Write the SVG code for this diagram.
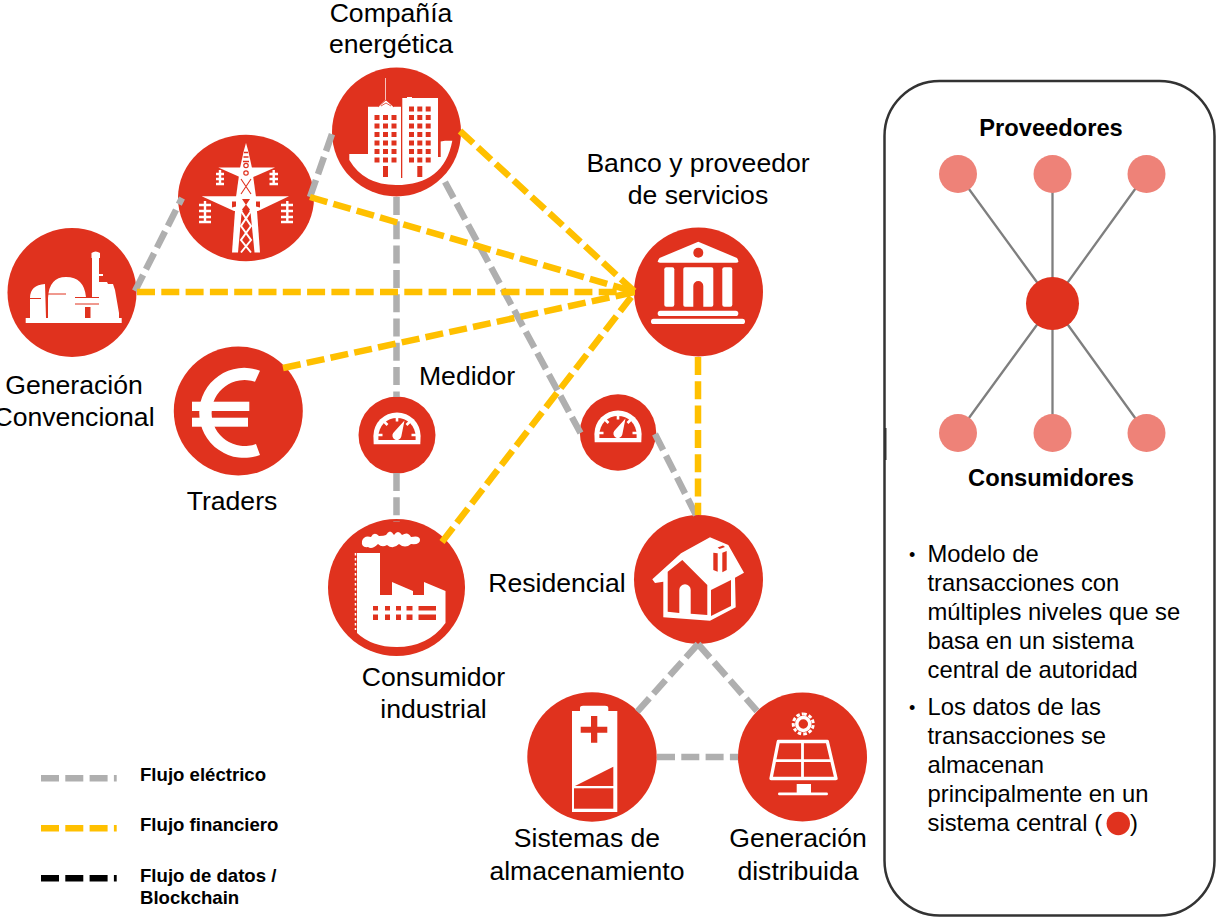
<svg xmlns="http://www.w3.org/2000/svg" xmlns:xlink="http://www.w3.org/1999/xlink" width="1217" height="917" viewBox="0 0 1217 917">
<style>
text{font-family:"Liberation Sans",Arial,sans-serif;fill:#000}
.lb{font-size:26.6px;text-anchor:middle}
.pt{font-size:23.8px}
.bu{font-size:18px}
.pb{font-size:23.7px;font-weight:bold;text-anchor:middle}
.lg{font-size:18.6px;font-weight:bold}
.c{fill:#E0321E}
.w{fill:#fff}
.rl{stroke:#E0321E;fill:none}
.wl{stroke:#fff;fill:none}
.dash{fill:none;stroke-width:6.5;stroke-dasharray:18 6.3}
.e{stroke:#AFAFAF}
.f{stroke:#FFC000}
.d{stroke:#000}
.pc{fill:#EE8278}
.sp{stroke:#7F7F7F;stroke-width:2.3;fill:none}
</style>
<defs>
<g id="meter">
<path class="w" d="M-23.3,9.3 L-23.6,1 A23.6,23.6 0 0 1 23.6,1 L23.3,9.3 Z"/>
<path class="c" d="M-18.6,5 L-18.6,1.5 A18.6,18.6 0 0 1 18.6,1.5 L18.6,5 Z"/>
<g class="wl" stroke-width="2.6">
<path d="M0,-18.5V-13.500M-13,-13.500L-9.500,-10M13,-13.500L9.500,-10M-19,0H-14.500M19,0H14.500"/>
</g>
<path class="w" d="M7.500,-14.500 L4.300,1.500 A4.500,4.500 0 1 1 -3.800,-2 Z"/>
</g>
</defs>

<g id="node-generacion">
<circle class="c" cx="72" cy="292.5" r="64.5"/>
<path class="w" d="M25.7,318 H30 V298 Q30,285 45,284 L46,318 H48 V298 Q49,277 66,277 Q84,277 86,297 H92 V258 H91.5 V253 Q95.5,250 100,253 V258 H99 V274 H103 V282 H107 L108,284 H113 L115,290 L119,313 V318 H121.7 V323 H25.7 Z"/>
<path class="rl" stroke-width="1" d="M30,298.5H41M47,294H66M75,297.5H99M75,304H99"/>
<rect class="c" x="85" y="307" width="5.5" height="11"/>
<rect class="c" x="99" y="276" width="4" height="6"/>
</g>

<g id="node-torre">
<ellipse class="c" cx="246" cy="198" rx="68" ry="63.3"/>
<path class="w" d="M244,150 L246,143 L248,150 L252,168 H240 Z"/>
<path class="w" d="M240,168 H252 L256,197 H236 Z"/>
<path class="w" d="M236,197 L232,252.5 H238 L243,197 Z"/>
<path class="w" d="M256,197 L260,252.5 H254.5 L249,197 Z"/>
<path class="w" d="M218.3,167.500 H275 L251,178 H242 Z"/>
<path class="w" d="M201.7,196.200 H289 L258,211 H234 Z"/>
<path class="rl" stroke-width="1.5" d="M244,152.500H248M243.500,157H248.500M243,161.500H249"/>
<circle class="rl" cx="246" cy="165.500" r="2.200" stroke-width="1.200"/>
<circle class="rl" cx="246" cy="173" r="2.200" stroke-width="1.200"/>
<path class="rl" stroke-width="1.100" d="M241,179L251,194M251,179L241,194"/>
<path class="c" d="M232,201.500H236V206.500L232,207.500ZM256,201.500H260V207.500L256,206.500ZM242,199H250L246,205ZM242,209.500L246,204.500L250,209.500L246,216Z"/>
<path class="wl" stroke-width="2" d="M241,211L251,226L241,240L251,252.500M251,211L241,226L251,240L241,252.500"/>
<path class="wl" stroke-width="2.400" d="M220,170V185M273.700,170V185M205,201V223M287.300,201V223"/>
<path class="wl" stroke-width="2.400" d="M216,174H224M216,179H224M216,184H224M269.500,174H278M269.500,179H278M269.500,184H278M199,205H211M199,211H211M199,217H211M199,222H211M281,205H293M281,211H293M281,217H293M281,222H293"/>
</g>

<g id="node-compania">
<circle class="c" cx="396.5" cy="132" r="64.5"/>
<path class="w" d="M349.3,154 H368 V106.7 H378 L385.3,100 V78 H386 V100 L393.5,106.7 H401 V178 H402.3 V98 H407 V97 H412 V98 H438 V157 H440.7 V141.5 L445,140.7 L452.3,140.7 Q444,185 396,185 Q364,185 349.3,160 Z"/>
<path class="rl" stroke-width="0.8" d="M378,107L386,100L394,107M381,106L386,103L391,106"/>
<path class="c" d="M374.5,115h5v5h-5zM383,115h5v5h-5zM391.5,115h5v5h-5zM374.5,123.5h5v5h-5zM383,123.5h5v5h-5zM391.5,123.5h5v5h-5zM374.5,132h5v5h-5zM383,132h5v5h-5zM391.5,132h5v5h-5zM374.5,140.5h5v5h-5zM383,140.5h5v5h-5zM391.5,140.5h5v5h-5zM374.5,149h5v5h-5zM383,149h5v5h-5zM391.5,149h5v5h-5zM374.5,157.5h5v5h-5zM383,157.5h5v5h-5zM391.5,157.5h5v5h-5z"/>
<path class="c" d="M409,106.5h5v5h-5zM417.3,106.5h5v5h-5zM425.7,106.5h5v5h-5zM409,115h5v5h-5zM417.3,115h5v5h-5zM425.7,115h5v5h-5zM409,123.5h5v5h-5zM417.3,123.5h5v5h-5zM425.7,123.5h5v5h-5zM409,132h5v5h-5zM417.3,132h5v5h-5zM425.7,132h5v5h-5zM409,140.5h5v5h-5zM417.3,140.5h5v5h-5zM425.7,140.5h5v5h-5zM409,149h5v5h-5zM417.3,149h5v5h-5zM425.7,149h5v5h-5zM409,157.5h5v5h-5zM417.3,157.5h5v5h-5zM425.7,157.5h5v5h-5z"/>
<rect class="c" x="383" y="166" width="5" height="11"/>
<rect class="c" x="417.3" y="166" width="5" height="11"/>
</g>

<g id="node-traders">
<circle class="c" cx="238.3" cy="411" r="64.5"/>
<path class="w" d="M260,370.7 A45,45 0 1 0 260,455 L256,444 A33,33 0 1 1 255,381.7 Z"/>
<rect class="w" x="192" y="401.7" width="57.3" height="9.3"/>
<rect class="w" x="192" y="417.7" width="56" height="9"/>
</g>

<g id="node-banco">
<circle class="c" cx="698.5" cy="292" r="64.5"/>
<path class="w" d="M698.3,241.7 L737,258 Q740,262.7 736,262.7 H660 Q656,262.7 659.5,258 Z"/>
<circle class="c" cx="698.3" cy="252.7" r="5"/>
<rect class="w" x="664.3" y="267.3" width="10" height="39.4" rx="2"/>
<path class="w" d="M685,267.3 H711.5 Q713.3,267.3 713.3,269 V305 Q713.3,306.7 711.5,306.7 H703.3 V286 A5,5 0 0 0 693.3,286 V306.7 H685 Q683.3,306.7 683.3,305 V269 Q683.3,267.3 685,267.3 Z"/>
<rect class="w" x="722.3" y="267.3" width="10" height="39.4" rx="2"/>
<rect class="w" x="657.7" y="310.7" width="80.6" height="5.3" rx="2.6"/>
<rect class="w" x="651" y="318.7" width="94" height="5.3" rx="2.6"/>
</g>

<g id="node-medidor-1">
<circle class="c" cx="397" cy="435" r="38.5"/>
<use xlink:href="#meter" href="#meter" transform="translate(397,435)"/>
</g>

<g id="node-medidor-2">
<circle class="c" cx="618" cy="432.5" r="38.2"/>
<use xlink:href="#meter" href="#meter" transform="translate(618,433)"/>
</g>

<g id="node-industrial">
<circle class="c" cx="396.5" cy="587.5" r="68.5"/>
<path class="w" d="M362,541 Q364,535 371,537 Q374,531 379,536 Q384,536 386,535 Q390,528 394,535 Q398,529 402,535 Q408,531 411,537 Q420,535 420,540 Q420,545 411,544 Q405,549 399,544 Q393,550 387,545 Q382,548 378,544 Q372,550 368,547 Q361,548 362,541 Z"/>
<path class="w" d="M357,553 H380 V595 H392 V582 L413,591 V595 H424 V582 L445.5,591 V623 Q428,647 396.5,647 Q372,647 357,633 Z"/>
<path class="wl" stroke-width="1.5" stroke-dasharray="2.5 2.5" d="M355.5,553V630"/>
<path class="c" d="M373,606h5v4.500h-5zM385,606h5v4.500h-5zM396,606h5v4.500h-5zM406.500,606h6v4.500h-6zM418.500,606h17.500v4.500h-17.500zM373,614.500h5v5.500h-5zM385,614.500h5v5.500h-5zM396,614.500h5v5.500h-5zM406.500,614.500h6v5.500h-6zM418.500,614.500h17.500v5.500h-17.500z"/>
</g>

<g id="node-residencial">
<circle class="c" cx="698.500" cy="579.500" r="64.500"/>
<path class="w" d="M652.300,579.300 L681,553.300 L710,537.300 L728.300,545 L744,572.700 L735,577.700 L735.700,607.300 L710,620.700 L663.300,617.300 L663.300,581.700 L655,583 Z"/>
<path class="c" d="M667.700,571.700 L682.300,560 L707.300,585 V615 L690.700,613.800 V590 A5.700,5.700 0 0 0 679.300,590 V613 L667.700,611.700 Z"/>
<path class="c" d="M711,590 L731,580 V606 L711,616 Z"/>
<path class="c" d="M713.300,552.700 L717.700,553.300 V571.700 L713.300,570 Z"/>
<path class="c" d="M722.300,552.700 L726.700,551 V570 L722.300,572.300 Z"/>
<path class="c" d="M717.700,547.500 L723,545.500 L725,547 L719.500,549 Z"/>
</g>

<g id="node-almacenamiento">
<circle class="c" cx="592" cy="757" r="64.700"/>
<path class="w" d="M572,711 H580 V708 Q580,705.700 583,705.700 H605 Q608.300,705.700 608.300,708 V711 H617.300 V812 H572 Z"/>
<path class="c" d="M580.700,726.700 H591 V716 H597.300 V726.700 H607.300 V732.700 H597.300 V742.700 H591 V732.700 H580.700 Z"/>
<path class="c" d="M575,786 L613.300,766.700 V786 Z"/>
<rect class="c" x="574" y="788.300" width="39.300" height="20.400"/>
</g>

<g id="node-distribuida">
<circle class="c" cx="802.500" cy="757" r="64.500"/>
<circle class="wl" cx="803.300" cy="724" r="6.500" stroke-width="3.500"/>
<path class="wl" stroke-width="3" stroke-dasharray="3.500 2" d="M803.300,714 A10,10 0 1 1 803.200,714"/>
<path class="wl" stroke-width="3.300" stroke-linejoin="round" d="M778.300,741.500 H827.300 L836,778.500 H771 Z"/>
<path class="wl" stroke-width="2.800" d="M802.500,741.500 V778.500 M775,760.700 H832"/>
<rect class="w" x="796.700" y="784" width="14.300" height="9"/>
<rect class="w" x="778" y="792.500" width="50" height="2.800" rx="1.400"/>
</g>

<g id="connectors">
<path class="dash e" d="M135,291 L182,198"/>
<path class="dash e" d="M310,197 L332,134"/>
<path class="dash e" d="M396.5,197 V397"/>
<path class="dash e" d="M396.5,473 V522"/>
<path class="dash e" d="M445,182 L581,434"/>
<path class="dash e" d="M655,434 L696,515"/>
<path class="dash e" d="M698,644 L637,712"/>
<path class="dash e" d="M698,644 L757,711"/>
<path class="dash e" d="M657,757 H738"/>
<path class="dash f" d="M137,292 H635"/>
<path class="dash f" d="M310,197 L635,292"/>
<path class="dash f" d="M460,131 L635,292"/>
<path class="dash f" d="M283,368 L635,292"/>
<path class="dash f" d="M442,542 L635,292"/>
<path class="dash f" d="M698,357 V515"/>
</g>

<g id="labels">
<text class="lb" x="391" y="22">Compañía</text>
<text class="lb" x="391" y="53">energética</text>
<text class="lb" x="698" y="172">Banco y proveedor</text>
<text class="lb" x="698" y="204">de servicios</text>
<text class="lb" x="74" y="394">Generación</text>
<text class="lb" x="74" y="426">Convencional</text>
<text class="lb" x="232" y="510">Traders</text>
<text class="lb" x="467" y="385">Medidor</text>
<text class="lb" x="557" y="592">Residencial</text>
<text class="lb" x="433.500" y="686">Consumidor</text>
<text class="lb" x="433.500" y="718">industrial</text>
<text class="lb" x="587" y="847">Sistemas de</text>
<text class="lb" x="587" y="880">almacenamiento</text>
<text class="lb" x="798" y="847">Generación</text>
<text class="lb" x="798" y="880">distribuida</text>
</g>

<g id="legend">
<path class="dash e" d="M41,778.300 H116.700"/>
<path class="dash f" d="M41,828.300 H116.700"/>
<path class="dash d" d="M41,878.300 H116.700"/>
<text class="lg" x="140" y="781">Flujo eléctrico</text>
<text class="lg" x="140" y="831">Flujo financiero</text>
<text class="lg" x="140" y="882">Flujo de datos /</text>
<text class="lg" x="140" y="904">Blockchain</text>
</g>

<g id="panel">
<rect x="884.500" y="81" width="330" height="834.500" rx="55" ry="55" fill="#fff" stroke="#333" stroke-width="2.500"/>
<path stroke="#333" stroke-width="2" d="M885.500,428V460"/>
<text class="pb" x="1051" y="136">Proveedores</text>
<text class="pb" x="1051" y="486">Consumidores</text>
<path class="sp" d="M958,174 L1052.500,303.500 L1146,174 M1052.500,174 V433 M958,433 L1052.500,303.500 L1146,433"/>
<circle class="pc" cx="958" cy="174" r="19"/>
<circle class="pc" cx="1052.500" cy="174" r="19"/>
<circle class="pc" cx="1146.500" cy="174" r="19"/>
<circle class="pc" cx="958" cy="433" r="19"/>
<circle class="pc" cx="1052.500" cy="433" r="19"/>
<circle class="pc" cx="1146.500" cy="433" r="19"/>
<circle class="c" cx="1052.500" cy="303.500" r="26.500"/>
<text class="bu" x="909" y="561">•</text>
<text class="pt" x="927.500" y="562">Modelo de</text>
<text class="pt" x="927.500" y="591">transacciones con</text>
<text class="pt" x="927.500" y="620">múltiples niveles que se</text>
<text class="pt" x="927.500" y="649">basa en un sistema</text>
<text class="pt" x="927.500" y="678">central de autoridad</text>
<text class="bu" x="909" y="714">•</text>
<text class="pt" x="927.500" y="715">Los datos de las</text>
<text class="pt" x="927.500" y="744">transacciones se</text>
<text class="pt" x="927.500" y="773">almacenan</text>
<text class="pt" x="927.500" y="802">principalmente en un</text>
<text class="pt" x="927.500" y="831">sistema central (</text>
<circle class="c" cx="1118.300" cy="823.500" r="11.700"/>
<text class="pt" x="1130" y="831">)</text>
</g>
</svg>
